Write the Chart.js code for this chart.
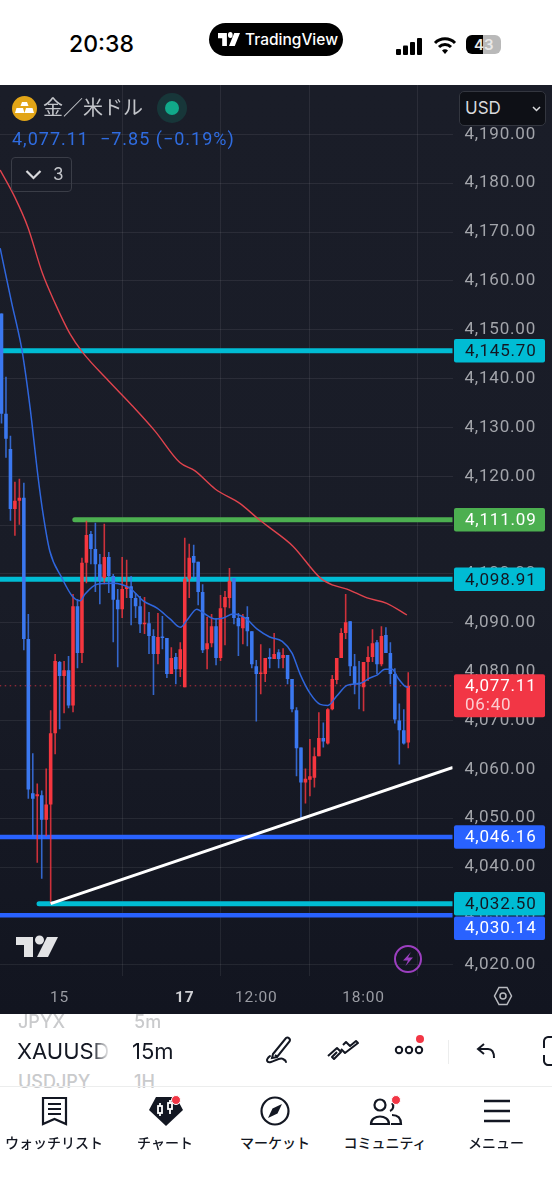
<!DOCTYPE html>
<html lang="ja">
<head>
<meta charset="utf-8">
<title>XAUUSD 15m</title>
<script src="https://cdn.jsdelivr.net/npm/chart.js@4"></script>
<style>
  * { box-sizing: border-box; }
  html, body { margin: 0; background: #fff; }
  body { width: 552px; height: 1200px; position: relative; overflow: hidden; font-family: Inter, sans-serif; }
  .abs { position: absolute; white-space: nowrap; line-height: 1; }
  .jp { font-family: "Noto Sans CJK JP", sans-serif; }
  #panel { position: absolute; left: 0; top: 85px; width: 552px; height: 929px;
           background: linear-gradient(#1a1d28, #191c27 55%, #121520); }
  #panel canvas { position: absolute; left: 0; top: 0; }
  svg.abs { overflow: visible; }
  .nav { font-size: 14px; font-weight: 500; color: #131722; transform: translateX(-50%); top: 1135px; }
  .fade { color: #c9cacc; }
</style>
</head>
<body>

<!-- status bar -->
<div class="abs" style="left:69px;top:33px;font-size:23px;font-weight:500;color:#000">20:38</div>
<div class="abs" style="left:209px;top:23px;width:134px;height:33px;border-radius:17px;background:#000"></div>
<svg class="abs" style="left:218px;top:33px" width="22" height="13" viewBox="0 2 42 20" preserveAspectRatio="none">
  <path d="M0 2h17v20H8V10H0z M19 5a4.5 4.5 0 1 0 9 0a4.5 4.5 0 1 0 -9 0z M31 2h11l-10 20H21z" fill="#fff"/>
</svg>
<div class="abs" style="left:245px;top:32px;font-size:15.5px;font-weight:500;color:#fff">TradingView</div>
<svg class="abs" style="left:396px;top:38px" width="27" height="18">
  <g fill="#000"><rect x="0" y="11" width="5" height="6" rx="1"/><rect x="7" y="7.5" width="5" height="9.5" rx="1"/><rect x="14" y="4" width="5" height="13" rx="1"/><rect x="21" y="0" width="5" height="17" rx="1"/></g>
</svg>
<svg class="abs" style="left:433px;top:36px" width="24" height="19" viewBox="0 0 24 19">
  <path d="M2 7a14 14 0 0 1 20 0M6 11a8.500 8.500 0 0 1 12 0" fill="none" stroke="#000" stroke-width="3"/>
  <path d="M9 14.500a4 4 0 0 1 6 0L12 18z" fill="#000"/>
</svg>
<div class="abs" style="left:466px;top:35px;width:35px;height:19px;border-radius:6px;background:linear-gradient(90deg,#000 50%,#b9b9b9 50%)"></div>
<div class="abs" style="left:474px;top:37px;font-size:15px;font-weight:600;color:#e9e9e9">43</div>

<div id="panel"><canvas id="goldChart" width="552" height="929"></canvas></div>

<!-- chart header overlays -->
<svg class="abs" style="left:12px;top:96px" width="25" height="25" viewBox="0 0 25 25">
  <circle cx="12.500" cy="12.500" r="12.500" fill="#e2a517"/>
  <path d="M10 6h5l1.500 4h-8z M4.500 12h6.500l1.500 5H3z M14 12h6.500l1.500 5H12.500z" fill="#fff"/>
</svg>
<div class="abs jp" style="left:43px;top:97px;font-size:20px;color:#c3c5ca">金／米ドル</div>
<svg class="abs" style="left:157px;top:93px" width="30" height="30">
  <circle cx="15" cy="15" r="15" fill="#0f9d7f" opacity="0.2"/><circle cx="15" cy="15" r="7" fill="#11a98a"/>
</svg>
<div class="abs" style="left:12px;top:130px;font-family:Roboto,sans-serif;font-size:18px;color:#2f6ce0;letter-spacing:1px">4,077.11&nbsp;&nbsp;−7.85 (−0.19%)</div>
<div class="abs" style="left:11px;top:157px;width:61px;height:35px;border:1px solid #3a3d47;border-radius:4px"></div>
<svg class="abs" style="left:25px;top:169px" width="17" height="11"><path d="M1.500 2l7 7l7-7" fill="none" stroke="#d8d9dc" stroke-width="2.200"/></svg>
<div class="abs" style="left:53px;top:166px;font-size:17px;color:#c3c5ca">3</div>
<div class="abs" style="left:459px;top:91px;width:87px;height:35px;background:#0e1016;border:1.500px solid #33363f;border-radius:5px"></div>
<div class="abs" style="left:465px;top:100px;font-size:17px;color:#d8d9dc">USD</div>
<svg class="abs" style="left:532px;top:106px" width="9" height="6"><path d="M1 1l3.500 3.500L8 1" fill="none" stroke="#d8d9dc" stroke-width="1.500"/></svg>

<svg class="abs" style="left:16px;top:937px" width="42" height="20" viewBox="0 2 42 20" preserveAspectRatio="none">
  <path d="M0 2h17v20H8V10H0z M19 5a4.500 4.500 0 1 0 9 0a4.500 4.500 0 1 0 -9 0z M31 2h11l-10 20H21z" fill="#e2e3e5"/>
</svg>
<svg class="abs" style="left:394px;top:945px" width="28" height="28" viewBox="0 0 28 28">
  <circle cx="14" cy="14" r="13" fill="none" stroke="#9c3fc0" stroke-width="2"/>
  <path d="M17 7L9 15.500h5L11.500 21L19 12.500h-5z" fill="#9c3fc0"/>
</svg>
<svg class="abs" style="left:493px;top:986px" width="20" height="20" viewBox="0 0 20 20">
  <path d="M6 1.500h8l4.500 8.500l-4.500 8.500H6L1.500 10z" fill="none" stroke="#b9bbc0" stroke-width="1.500"/>
  <circle cx="10" cy="10" r="3" fill="none" stroke="#b9bbc0" stroke-width="1.500"/>
</svg>

<!-- toolbar -->
<div class="abs fade" style="left:18px;top:1013px;font-size:18px;font-weight:500">JPYX</div>
<div class="abs fade" style="left:134px;top:1013px;font-size:18px;font-weight:500">5m</div>
<div class="abs" style="left:17px;top:1040px;width:93px;overflow:hidden;font-size:22px;font-weight:400;color:#131722;-webkit-mask-image:linear-gradient(90deg,#000 80%,transparent)">XAUUSD</div>
<div class="abs" style="left:132px;top:1040px;font-size:22px;font-weight:400;color:#131722">15m</div>
<div class="abs fade" style="left:18px;top:1073px;font-size:18px;font-weight:500">USDJPY</div>
<div class="abs fade" style="left:134px;top:1073px;font-size:18px;font-weight:500">1H</div>
<div class="abs" style="left:0;top:1086px;width:552px;height:1px;background:#eceded"></div>

<svg class="abs" style="left:264px;top:1035px" width="30" height="30" viewBox="0 0 30 30" fill="none" stroke="#131722" stroke-width="2">
  <path d="M9 19L22 3c2-1.500 5 1 3.500 3.500L13 22l-5 1z M11 20l3 2"/><path d="M6 21c-5 4-3 7 1 6c4-1 9-5 12-3c2 1 3 2 3 3" stroke-linecap="round"/>
</svg>
<svg class="abs" style="left:327px;top:1038px" width="32" height="24" viewBox="0 0 32 24" fill="none" stroke="#131722" stroke-width="2">
  <path d="M1 18l9-8l4 4l-7 7l-2-2l5-5M14 11l4 4L31 5l-2-2l-6 5l-4-4l-3 3" stroke-linejoin="round"/>
</svg>
<svg class="abs" style="left:393px;top:1032px" width="34" height="26">
  <circle cx="6" cy="18" r="3.200" fill="none" stroke="#131722" stroke-width="2"/><circle cx="16" cy="18" r="3.200" fill="none" stroke="#131722" stroke-width="2"/><circle cx="26" cy="18" r="3.200" fill="none" stroke="#131722" stroke-width="2"/>
  <circle cx="27" cy="7" r="4" fill="#f23645"/>
</svg>
<div class="abs" style="left:448px;top:1040px;width:1px;height:24px;background:#eceded"></div>
<svg class="abs" style="left:476px;top:1042px" width="20" height="18" viewBox="0 0 20 18" fill="none" stroke="#131722" stroke-width="2">
  <path d="M8 2L2 7l6 5M2 7h10c4 0 6 3 6 9"/>
</svg>
<svg class="abs" style="left:537px;top:1036px" width="15" height="30" viewBox="0 0 15 30" fill="none" stroke="#131722" stroke-width="2">
  <path d="M15 1h-4c-2 0-4 2-4 4v7M7 19v6c0 2 2 4 4 4h4"/>
</svg>

<!-- bottom nav -->
<svg class="abs" style="left:41px;top:1096px" width="27" height="30" viewBox="0 0 27 30" fill="none" stroke="#131722" stroke-width="2.200">
  <path d="M2 2h23v26l-11.500-5L2 28z M7 8h13M7 13h13M7 18h13"/>
</svg>
<svg class="abs" style="left:147px;top:1094px" width="38" height="34" viewBox="0 0 38 34">
  <path d="M9 3h20l7 13l-17 16L2 16z" fill="#131722"/>
  <g fill="none" stroke="#fff" stroke-width="1.800"><rect x="11" y="12" width="4" height="7"/><path d="M13 9v3M13 19v3"/><rect x="21" y="9" width="4" height="6"/><path d="M23 6v3M23 15v5"/></g>
  <circle cx="29" cy="6" r="4.500" fill="#f23645" stroke="#fff"/>
</svg>
<svg class="abs" style="left:260px;top:1096px" width="30" height="30" viewBox="0 0 30 30">
  <circle cx="15" cy="15" r="13.500" fill="none" stroke="#131722" stroke-width="2.200"/>
  <path d="M22 8L17.500 17.500L8 22L12.500 12.500z" fill="#131722"/>
</svg>
<svg class="abs" style="left:370px;top:1094px" width="34" height="32" viewBox="0 0 34 32" fill="none" stroke="#131722" stroke-width="2.200">
  <circle cx="10" cy="11" r="5.500"/><path d="M1 30c0-10 18-10 18 0z"/><path d="M22 9a5 5 0 0 1-2 8M22 21c6 0 9 3 9 9h-10"/>
  <circle cx="26" cy="6" r="4.500" fill="#f23645" stroke="#fff" stroke-width="1"/>
</svg>
<svg class="abs" style="left:484px;top:1099px" width="26" height="24">
  <path d="M0 2h26M0 12h26M0 22h26" stroke="#131722" stroke-width="2.400"/>
</svg>
<div class="abs nav jp" style="left:54px">ウォッチリスト</div>
<div class="abs nav jp" style="left:165px">チャート</div>
<div class="abs nav jp" style="left:275px">マーケット</div>
<div class="abs nav jp" style="left:385px">コミュニティ</div>
<div class="abs nav jp" style="left:496px">メニュー</div>

<script>
// 15m candles (index 0 = leftmost candle)
const candleOpen = [
  4153.3,4132.8,4125.6,4113.3,4115.0,4115.6,4086.7,4055.1,4054.5,4054.7,
  4049.7,4052.8,4067.4,4082.0,4079.1,4080.3,4073.1,4093.4,4083.8,4102.3,
  4108.2,4105.1,4102.0,4099.2,4103.5,4099.6,4094.7,4092.8,4096.9,4097.5,
  4095.1,4093.4,4089.7,4089.9,4087.3,4083.6,4087.1,4086.9,4079.5,4083.0,
  4080.5,4076.8,4099.0,4103.7,4102.5,4096.3,4084.6,4085.8,4089.3,4082.8,
  4093.2,4095.1,4099.2,4091.0,4088.9,4091.2,4088.3,4081.1,4079.5,4079.5,
  4083.0,4082.6,4084.0,4082.8,4083.4,4078.5,4072.1,4064.5,4057.3,4057.9,
  4058.3,4062.7,4066.4,4065.3,4072.3,4078.3,4082.8,4087.9,4090.3,4081.1,
  4077.6,4076.8,4082.0,4083.0,4086.0,4081.5,4087.5,4083.8,4079.5,4070.0,
  4068.0,4065.5
];
const candleHigh = [
  4153.3,4140.4,4128.3,4118.9,4119.5,4118.7,4091.8,4063.3,4057.1,4055.7,
  4060.2,4072.1,4083.6,4082.2,4082.2,4083.2,4095.9,4094.9,4103.3,4110.9,
  4108.8,4110.5,4104.1,4110.3,4104.5,4100.0,4096.9,4103.5,4102.9,4099.6,
  4096.1,4095.5,4095.3,4092.2,4088.7,4092.0,4091.4,4086.9,4085.0,4083.8,
  4086.0,4107.4,4106.2,4106.0,4102.5,4097.9,4091.2,4091.8,4091.0,4095.7,
  4096.5,4101.2,4099.2,4092.0,4091.8,4093.4,4088.3,4082.4,4085.6,4082.8,
  4084.8,4087.9,4084.6,4084.8,4083.4,4078.5,4072.7,4064.5,4060.2,4066.2,
  4064.5,4071.7,4069.6,4072.5,4079.3,4082.8,4088.9,4095.9,4090.3,4083.6,
  4082.2,4082.0,4085.2,4088.7,4086.5,4089.3,4089.1,4086.0,4080.7,4073.5,
  4072.3,4079.9
];
const candleLow = [
  4130.8,4123.8,4110.9,4107.8,4110.1,4084.4,4054.0,4046.3,4040.9,4037.6,
  4046.3,4032.5,4063.1,4068.2,4071.5,4072.5,4071.7,4080.7,4081.8,4098.1,
  4102.0,4096.3,4093.8,4097.9,4096.1,4086.0,4080.9,4091.0,4095.1,4089.5,
  4091.0,4087.9,4087.7,4083.6,4075.2,4081.5,4084.6,4078.7,4079.5,4077.4,
  4078.9,4076.8,4095.1,4099.2,4093.6,4083.8,4080.5,4085.0,4081.3,4082.2,
  4085.4,4093.0,4089.7,4083.2,4085.6,4085.2,4080.7,4069.8,4075.4,4077.9,
  4080.7,4082.6,4080.7,4080.7,4077.4,4071.7,4058.6,4049.7,4053.0,4054.5,
  4056.3,4062.7,4064.5,4065.1,4072.1,4077.4,4082.8,4086.7,4079.1,4075.4,
  4072.3,4071.9,4078.1,4082.0,4079.5,4081.1,4083.8,4077.4,4069.4,4061.0,
  4065.1,4064.3
];
const candleClose = [
  4132.8,4127.7,4113.3,4115.0,4115.6,4086.7,4055.9,4054.0,4054.9,4049.7,
  4052.8,4067.4,4082.2,4079.1,4080.3,4073.1,4093.4,4083.8,4102.3,4108.0,
  4105.1,4102.0,4098.6,4103.5,4099.6,4094.7,4092.8,4096.9,4097.5,4095.1,
  4093.4,4089.7,4089.9,4087.3,4083.6,4087.1,4086.9,4079.5,4082.8,4080.5,
  4084.6,4099.0,4103.3,4102.3,4096.3,4084.4,4085.8,4089.3,4082.8,4093.0,
  4095.3,4098.6,4091.0,4089.3,4091.2,4088.3,4081.5,4079.5,4079.7,4082.8,
  4082.6,4083.6,4082.6,4083.4,4078.5,4072.3,4064.3,4057.3,4058.1,4058.6,
  4062.7,4066.4,4065.7,4072.3,4078.5,4082.8,4087.9,4090.1,4081.1,4077.4,
  4077.4,4082.0,4083.0,4085.8,4081.5,4087.3,4083.8,4079.5,4070.2,4068.0,
  4065.3,4077.11
];

// moving averages, sampled where the curve bends
const fastMaIdx = [-0.3,2.3,3.7,4.6,6.4,8.2,9.3,10.8,13.5,15.8,17.6,18.7,21.4,24.9,28.7,31.7,34.8,37.7,40,41.7,43.7,45.5,47.8,49.6,51.8,54.5,57.2,60,62.8,65,66.8,69,71.3,73,75,77.3,80.2,82.4,84,85.8,87.4,88.7,90.3,91];
const fastMaVal = [4166.7,4155.4,4149.8,4145.7,4134.0,4119.7,4112.3,4104.7,4099.2,4095.5,4094.5,4095.9,4097.9,4098.1,4097.1,4094.5,4093.0,4090.8,4089.1,4090.8,4092.8,4091.8,4090.8,4091.0,4091.8,4091.0,4088.7,4087.1,4086.2,4083.8,4079.5,4075.6,4073.3,4073.1,4075.0,4077.2,4077.6,4078.7,4079.3,4080.5,4080.5,4078.7,4077.0,4076.8];
const slowMaIdx = [-0.3,3,5.9,9.1,12,15.3,18.2,24.3,29.2,34.3,39.9,43.3,47.8,53.4,57.4,59.4,65.2,71.3,74.2,77.3,81.8,86.2,90.7];
const slowMaVal = [4182.7,4177.1,4171.0,4161.7,4155.4,4149.2,4145.3,4139.2,4134.5,4129.3,4122.8,4121.1,4117.4,4114.4,4111.3,4109.9,4105.7,4099.2,4097.7,4096.9,4095.1,4094.0,4091.6];

// horizontal levels and trend line
const levelValues = [4145.70, 4111.09, 4098.91, 4046.16, 4032.50, 4030.14];
const levelStarts = [-0.4, 16.4, -0.4, -0.4, 8.4, -0.4];
const levelColors = ["#00bcd4", "#4caf50", "#00bcd4", "#2962ff", "#00bcd4", "#2962ff"];
const levelText = ["#131722", "#fff", "#131722", "#fff", "#131722", "#fff"];
const trendIdx = [11, 101];
const trendVal = [4032.5, 4060.4];
const lastPrice = 4077.11;
const lastCountdown = "06:40";

// axes
const yTickValues = [4020,4030,4040,4050,4060,4070,4080,4090,4100,4110,4120,4130,4140,4150,4160,4170,4180,4190];
const xTickPos = [13, 41, 57, 81];
const xTickLabels = ["15", "17", "12:00", "18:00"];

const RED = "#f5363f", BLUE = "#3b78f0";
const FONT = "Roboto, sans-serif";
const isUp = candleClose.map((c, i) => c >= candleOpen[i]);
const candleColors = isUp.map(u => u ? RED : BLUE);
const wickColors = isUp.map(u => u ? "rgba(245,54,63,.82)" : "rgba(59,120,240,.82)");

const fmt = v => v.toLocaleString("en-US", { minimumFractionDigits: 2, maximumFractionDigits: 2 });
const pts = (xs, ys) => xs.map((x, i) => ({ x, y: ys[i] }));

function priceTag(ctx, y, h, color) {
  ctx.fillStyle = color;
  ctx.beginPath();
  ctx.roundRect(454, y - h / 2, 91, h, 2);
  ctx.fill();
}

// price tags on the right axis, drawn over the tick labels
const tagsPlugin = {
  id: "tags",
  beforeDraw(chart) {
    chart.ctx.letterSpacing = "0.8px";
  },
  afterDraw(chart) {
    const { ctx, scales: { y } } = chart;
    ctx.save();
    ctx.font = "17px " + FONT;
    ctx.textBaseline = "middle";
    levelValues.forEach((v, i) => {
      // the lowest tag gets pushed down so it clears its neighbour
      const py = y.getPixelForValue(v) + (i === 5 ? 13 : 0);
      priceTag(ctx, py, 23.5, levelColors[i]);
      ctx.fillStyle = levelText[i];
      ctx.fillText(fmt(v), 465, py + 1);
    });
    const py = y.getPixelForValue(lastPrice);
    priceTag(ctx, py + 10, 43, "#f23645");
    ctx.fillStyle = "#fff";
    ctx.fillText(fmt(lastPrice), 465, py + 1);
    ctx.fillStyle = "rgba(255,255,255,.75)";
    ctx.fillText(lastCountdown, 465, py + 20);
    ctx.restore();
  }
};

const levelSets = levelValues.map((v, i) => ({
  type: "line",
  data: pts([levelStarts[i], 101], [v, v]),
  borderColor: levelColors[i],
  borderWidth: i === 3 || i === 5 ? 4.5 : 5,
  borderCapStyle: "round",
  pointRadius: 0,
  order: 10
}));

new Chart(document.getElementById("goldChart"), {
  type: "bar",
  data: {
    datasets: [
      ...levelSets,
      {
        type: "bar",
        data: pts(candleOpen.map((_, i) => i), candleHigh.map((h, i) => [candleLow[i], h])),
        backgroundColor: wickColors,
        grouped: false,
        barPercentage: 1,
        maxBarThickness: 1.6,
        order: 6
      },
      {
        type: "bar",
        data: pts(candleOpen.map((_, i) => i), candleOpen.map((o, i) => [o, candleClose[i]])),
        backgroundColor: candleColors,
        grouped: false,
        barPercentage: 1,
        maxBarThickness: 4.1,
        minBarLength: 1.5,
        order: 5
      },
      {
        type: "line",
        data: pts([-0.4, 101], [lastPrice, lastPrice]),
        borderColor: "rgba(242,54,69,.75)",
        borderWidth: 1,
        borderDash: [1.5, 3.5],
        pointRadius: 0,
        order: 4
      },
      {
        type: "line",
        data: pts(slowMaIdx, slowMaVal),
        borderColor: "#e0434d",
        borderWidth: 1.4,
        pointRadius: 0,
        cubicInterpolationMode: "monotone",
        order: 3
      },
      {
        type: "line",
        data: pts(fastMaIdx, fastMaVal),
        borderColor: "#2f66dd",
        borderWidth: 1.5,
        pointRadius: 0,
        cubicInterpolationMode: "monotone",
        order: 2
      },
      {
        type: "line",
        data: pts(trendIdx, trendVal),
        borderColor: "#fff",
        borderWidth: 3,
        pointRadius: 0,
        order: 1
      }
    ]
  },
  options: {
    responsive: false,
    animation: false,
    events: [],
    layout: { padding: 0 },
    plugins: { legend: { display: false }, tooltip: { enabled: false } },
    scales: {
      x: {
        type: "linear",
        min: -0.336,
        max: 100.9,
        offset: false,
        afterFit: s => { s.height = 38; s.paddingLeft = 0; s.paddingRight = 0; },
        afterBuildTicks: s => { s.ticks = xTickPos.map(value => ({ value })); },
        grid: { color: "rgba(255,255,255,.075)", drawTicks: false },
        border: { display: false },
        ticks: {
          autoSkip: false,
          maxRotation: 0,
          padding: 13,
          color: (c) => c.index === 1 ? "#cfd0d4" : "#9a9ca3",
          font: (c) => ({ family: FONT, size: 15.5, weight: c.index === 1 ? "700" : "400" }),
          callback: v => xTickLabels[xTickPos.indexOf(v)]
        }
      },
      y: {
        position: "right",
        min: 4017.7,
        max: 4200.1,
        afterFit: s => { s.width = 99.5; s.paddingTop = 0; s.paddingBottom = 0; },
        afterBuildTicks: s => { s.ticks = yTickValues.map(value => ({ value })); },
        grid: { color: "rgba(255,255,255,.075)", drawTicks: false },
        border: { display: false },
        ticks: {
          autoSkip: false,
          padding: 12,
          color: "#a3a5ab",
          font: { family: FONT, size: 17 },
          callback: v => fmt(v)
        }
      }
    }
  },
  plugins: [tagsPlugin]
});
</script>
</body>
</html>
